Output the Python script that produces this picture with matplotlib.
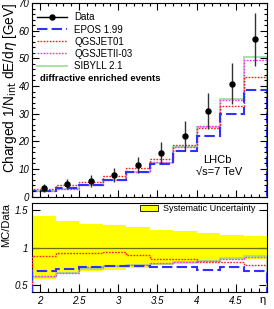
import numpy as np
import matplotlib
matplotlib.use("Agg")
import matplotlib.pyplot as plt
from matplotlib.lines import Line2D
from matplotlib.patches import Patch
from matplotlib.ticker import MultipleLocator

plt.rcParams["font.family"] = ["Liberation Sans", "DejaVu Sans"]

# eta bins (edges) and bin centres
eta_edges = [1.9, 2.2, 2.5, 2.8, 3.1, 3.4, 3.7, 4.0, 4.3, 4.6, 4.9]
eta_centres = [2.05, 2.35, 2.65, 2.95, 3.25, 3.55, 3.85, 4.15, 4.45, 4.75]

# measured energy flow [GeV] and its error
data = [3.1, 4.4, 5.6, 7.8, 11.5, 15.8, 22.0, 31.0, 40.9, 56.9]
data_err = [1.5, 1.8, 2.2, 2.7, 2.9, 4.0, 5.5, 6.6, 7.4, 9.6]

# generator predictions [GeV]
epos = [2.1, 3.1, 4.1, 5.9, 8.7, 11.7, 16.3, 21.8, 29.9, 38.7]
qgsjet01 = [2.76, 4.05, 5.2, 7.33, 10.35, 13.4, 18.5, 24.9, 32.7, 43.2]
qgsjet2 = [1.9, 2.9, 4.1, 5.85, 8.85, 12.5, 17.8, 25.5, 34.8, 49.5]
sibyll = [1.86, 2.86, 4.0, 5.85, 8.85, 12.3, 17.8, 25.2, 35.2, 50.6]

# relative systematic uncertainty
sys_rel = [0.43, 0.36, 0.32, 0.30, 0.27, 0.23, 0.22, 0.20, 0.17, 0.16]

models = [
    ("EPOS 1.99", epos, dict(color="#3030ff", lw=1.5, ls=(0, (5, 2)))),
    ("QGSJET01", qgsjet01, dict(color="#ff2020", lw=1.0, ls=(0, (1.2, 1.0)))),
    ("QGSJETII-03", qgsjet2, dict(color="#ff30ff", lw=1.0, ls=(0, (1.2, 1.0)))),
    ("SIBYLL 2.1", sibyll, dict(color="#99dd99", lw=1.2, ls="-")),
]

fig = plt.figure(figsize=(2.74, 3.09), dpi=100)
ax = fig.add_axes([0.117, 0.364, 0.858, 0.626])
axr = fig.add_axes([0.117, 0.055, 0.858, 0.288])

# ---- top panel
for name, vals, st in reversed(models):
    ax.stairs(vals, eta_edges, color=st["color"], lw=st["lw"], ls=st["ls"])
ax.errorbar(eta_centres, data, yerr=data_err, fmt="o", color="black",
            ecolor="#333333", elinewidth=1.0, ms=3.6, capsize=0, zorder=5)

ax.set_xlim(1.9, 4.9)
ax.set_ylim(0, 70)
ax.xaxis.set_major_locator(MultipleLocator(0.5))
ax.xaxis.set_minor_locator(MultipleLocator(0.1))
ax.yaxis.set_major_locator(MultipleLocator(10))
ax.yaxis.set_minor_locator(MultipleLocator(2))
ax.tick_params(which="both", direction="in", top=True, right=True,
               labelbottom=False, width=0.8, pad=2)
ax.tick_params(which="major", length=5)
ax.tick_params(which="minor", length=2.5)
for lab in ax.get_yticklabels():
    lab.set_fontsize(7)
    lab.set_fontstyle("italic")
ax.set_ylabel(r"Charged 1/N$_{\rm int}$ dE/d$\eta$ [GeV]", fontsize=9.8,
              loc="top", labelpad=0)

handles = [Line2D([], [], color="black", lw=1.0, marker="o", ms=3.6)]
for name, vals, st in models:
    handles.append(Line2D([], [], color=st["color"], lw=st["lw"], ls=st["ls"]))
ax.legend(handles, ["Data"] + [m[0] for m in models], loc="upper left",
          bbox_to_anchor=(0.022, 0.952), frameon=False, fontsize=7,
          handlelength=3.1, handletextpad=0.7, labelspacing=0.22,
          borderpad=0, borderaxespad=0)

ax.text(0.034, 0.612, "diffractive enriched events", transform=ax.transAxes,
        fontsize=6.8, fontweight="bold", ha="left", va="center")
ax.text(0.787, 0.189, "LHCb", transform=ax.transAxes, fontsize=8,
        ha="center", va="center")
ax.text(0.796, 0.127, "\u221as=7 TeV", transform=ax.transAxes, fontsize=8,
        ha="center", va="center")

# ---- ratio panel
sys_up = [1 + s for s in sys_rel]
sys_dn = [1 - s for s in sys_rel]
axr.stairs(sys_up, eta_edges, baseline=sys_dn, fill=True, color="#ffff00",
           lw=0, zorder=1)
axr.axhline(1.0, color="#6e6e00", lw=0.9, zorder=2)
for name, vals, st in reversed(models):
    ratio = np.array(vals) / np.array(data)
    axr.stairs(ratio, eta_edges, color=st["color"], lw=st["lw"], ls=st["ls"],
               zorder=3)

axr.set_xlim(1.9, 4.9)
axr.set_ylim(0.4, 1.6)
axr.xaxis.set_minor_locator(MultipleLocator(0.1))
axr.set_yticks([0.5, 1, 1.5], ["0.5", "1", "1.5"])
axr.set_xticks([2, 2.5, 3, 3.5, 4, 4.5], ["2", "2.5", "3", "3.5", "4", "4.5"])
axr.tick_params(which="both", direction="in", right=True, width=0.8, pad=3)
axr.tick_params(which="major", length=6)
axr.tick_params(which="minor", length=3)
for lab in axr.get_xticklabels() + axr.get_yticklabels():
    lab.set_fontsize(7)
    lab.set_fontstyle("italic")
axr.set_ylabel("MC/Data", fontsize=8, loc="top", labelpad=2)
axr.text(0.979, -0.09, "\u03b7", transform=axr.transAxes, fontsize=8,
         ha="center", va="center")

axr.legend([Patch(facecolor="#ffff00", edgecolor="black", lw=0.6)],
           ["Systematic Uncertainty"], loc="upper left",
           bbox_to_anchor=(0.46, 0.99), frameon=False, fontsize=6.5,
           handlelength=2.0, handleheight=0.6, handletextpad=0.5,
           borderpad=0, borderaxespad=0)

for a in (ax, axr):
    for sp in a.spines.values():
        sp.set_linewidth(0.8)

fig.savefig("out.png", dpi=100)
